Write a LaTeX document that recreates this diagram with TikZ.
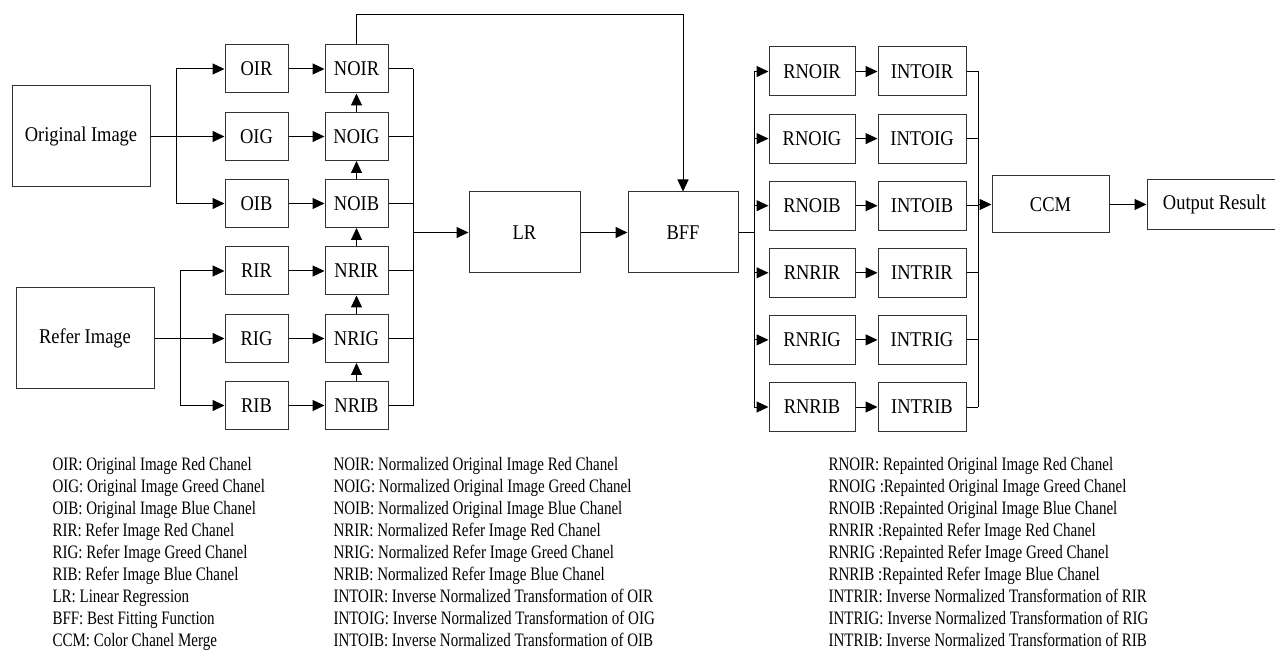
\documentclass[tikz,border=0pt]{standalone}
\usepackage{fontspec}
\setmainfont[FakeStretch=0.88]{Liberation Serif}
\newfontfamily\legfont[FakeStretch=0.79]{Liberation Serif}
\usetikzlibrary{arrows.meta}
\begin{document}
\begin{tikzpicture}[x=1pt,y=-1pt,line width=1pt,
  box/.style={draw=black!80,rectangle,inner sep=0pt,font=\fontsize{21}{24}\selectfont},
  sbox/.style={box,minimum width=63pt,minimum height=48pt},
  rbox/.style={box,minimum width=86pt,minimum height=49pt},
  ibox/.style={box,minimum width=88pt,minimum height=49pt},
  arr/.style={-{Triangle[length=12pt,width=11pt]}},
  leg/.style={anchor=base west,inner sep=0pt,font=\legfont\fontsize{19}{22}\selectfont}]
\useasboundingbox (0,0) rectangle (1275,652);

% source images
\node[box,minimum width=138pt,minimum height=101pt] (orig) at (81,136.5) {Original Image};
\node[box,minimum width=138pt,minimum height=101pt] (refer) at (85,338.5) {Refer Image};

% channel and normalized channel boxes
\foreach \n/\m/\y in {OIR/NOIR/69,OIG/NOIG/136.5,OIB/NOIB/203.5,RIR/NRIR/271,RIG/NRIG/338.5,RIB/NRIB/405.5}{
  \node[sbox] (\n) at (256.5,\y) {\n};
  \node[sbox] (\m) at (356.5,\y) {\m};
  \draw[arr] (\n) -- (\m);
}

% splits
\coordinate (jo) at (176,136.5);
\draw[arr] (orig) -- (OIG);
\draw[arr] (jo) |- (OIR.west);
\draw[arr] (jo) |- (OIB.west);
\coordinate (jr) at (180,338.5);
\draw[arr] (refer) -- (RIG);
\draw[arr] (jr) |- (RIR.west);
\draw[arr] (jr) |- (RIB.west);

% upward arrows
\draw[arr] (NOIG) -- (NOIR);
\draw[arr] (NOIB) -- (NOIG);
\draw[arr] (NRIR) -- (NOIB);
\draw[arr] (NRIG) -- (NRIR);
\draw[arr] (NRIB) -- (NRIG);

% LR and BFF
\node[box,minimum width=111pt,minimum height=81pt] (LR) at (524.5,232.5) {LR};
\node[box,minimum width=110pt,minimum height=81pt] (BFF) at (683,232.5) {BFF};

% bus to LR
\coordinate (bl) at (413,232.5);
\foreach \m in {NOIR,NOIG,NOIB,NRIR,NRIG,NRIB}{
  \draw (\m.east) -- (\m.east -| bl);
}
\draw (NOIR.east -| bl) -- (NRIB.east -| bl);
\draw[arr] (bl) -- (LR.west);

% top connector
\coordinate (top) at (683,15);
\draw[arr] (NOIR.north) |- (top) -- (BFF.north);
\draw[arr] (LR) -- (BFF);

% repainted and inverse boxes
\foreach \r/\i/\y in {RNOIR/INTOIR/71.5,RNOIG/INTOIG/138.6,RNOIB/INTOIB/205.7,RNRIR/INTRIR/272.8,RNRIG/INTRIG/339.9,RNRIB/INTRIB/407}{
  \node[rbox] (\r) at (812,\y) {\r};
  \node[ibox] (\i) at (922,\y) {\i};
  \draw[arr] (\r) -- (\i);
}

% bus from BFF
\coordinate (bb) at (754,232.5);
\draw (BFF.east) -- (bb);
\draw (RNOIR.west -| bb) -- (RNRIB.west -| bb);
\foreach \r in {RNOIR,RNOIG,RNOIB,RNRIR,RNRIG,RNRIB}{
  \draw[arr] (\r.west -| bb) -- (\r.west);
}

% CCM and output
\node[box,minimum width=117pt,minimum height=57pt] (CCM) at (1050.5,204.5) {CCM};
\node[box,minimum width=135pt,minimum height=50pt] (out) at (1214.5,204.5) {Output Result};
\coordinate (bc) at (978,204.5);
\foreach \i in {INTOIR,INTOIG,INTOIB,INTRIR,INTRIG,INTRIB}{
  \draw (\i.east) -- (\i.east -| bc);
}
\draw (INTOIR.east -| bc) -- (INTRIB.east -| bc);
\draw[arr] (bc) -- (CCM.west);
\draw[arr] (CCM) -- (out);

% legend
\foreach \t [count=\k] in {OIR: Original Image Red Chanel,OIG: Original Image Greed Chanel,OIB: Original Image Blue Chanel,RIR: Refer Image Red Chanel,RIG: Refer Image Greed Chanel,RIB: Refer Image Blue Chanel,LR: Linear Regression,BFF: Best Fitting Function,CCM: Color Chanel Merge}{
  \node[leg] (la\k) at (52,{470+22*(\k-1)}) {\t};
}
\foreach \t [count=\k] in {NOIR: Normalized Original Image Red Chanel,NOIG: Normalized Original Image Greed Chanel,NOIB: Normalized Original Image Blue Chanel,NRIR: Normalized Refer Image Red Chanel,NRIG: Normalized Refer Image Greed Chanel,NRIB: Normalized Refer Image Blue Chanel,INTOIR: Inverse Normalized Transformation of OIR,INTOIG: Inverse Normalized Transformation of OIG,INTOIB: Inverse Normalized Transformation of OIB}{
  \node[leg] (lb\k) at (333,{470+22*(\k-1)}) {\t};
}
\foreach \t [count=\k] in {RNOIR: Repainted Original Image Red Chanel,RNOIG :Repainted Original Image Greed Chanel,RNOIB :Repainted Original Image Blue Chanel,RNRIR :Repainted Refer Image Red Chanel,RNRIG :Repainted Refer Image Greed Chanel,RNRIB :Repainted Refer Image Blue Chanel,INTRIR: Inverse Normalized Transformation of RIR,INTRIG: Inverse Normalized Transformation of RIG,INTRIB: Inverse Normalized Transformation of RIB}{
  \node[leg] (lc\k) at (828,{470+22*(\k-1)}) {\t};
}
\end{tikzpicture}
\end{document}
